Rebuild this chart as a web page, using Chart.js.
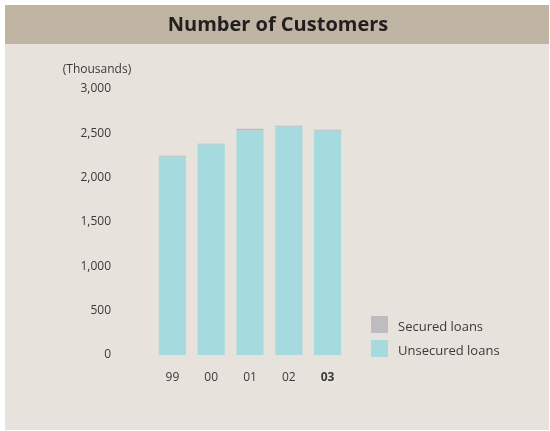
<!DOCTYPE html>
<html>
<head>
<meta charset="utf-8">
<script src="https://cdn.jsdelivr.net/npm/chart.js@4/dist/chart.umd.min.js"></script>
<style>
html,body{margin:0;padding:0;background:#ffffff;}
#wrap{position:absolute;left:0;top:0;width:550px;height:431px;}
</style>
</head>
<body>
<div id="wrap"><canvas id="c" width="550" height="431"></canvas></div>
<script>
const categories = ['99', '00', '01', '02', '03'];
const securedLoans = [12, 10, 22, 12, 12];
const unsecuredLoans = [2236, 2373, 2530, 2574, 2528];
const yTicks = [0, 500, 1000, 1500, 2000, 2500, 3000];
const titleText = 'Number of Customers';
const unitText = '(Thousands)';

const COL_SECURED = '#bdbcc0';
const COL_UNSECURED = '#a5dbdf';
const TEXT = '#3a3a3a';
const FONT = "'Open Sans', 'Noto Sans', sans-serif";

const backgroundPlugin = {
  id: 'bgPanel',
  beforeDraw(chart) {
    const ctx = chart.ctx;
    ctx.save();
    ctx.fillStyle = '#ffffff';
    ctx.fillRect(0, 0, 550, 431);
    ctx.fillStyle = '#e7e2db';
    ctx.fillRect(5, 5, 544, 425);
    ctx.fillStyle = '#c0b4a3';
    ctx.fillRect(5, 5, 544, 39);
    ctx.fillStyle = '#231f20';
    ctx.font = "bold 20px " + FONT;
    ctx.textAlign = 'center';
    ctx.textBaseline = 'middle';
    ctx.fillText(titleText, 278, 25);
    ctx.fillStyle = TEXT;
    ctx.font = "12px " + FONT;
    ctx.textAlign = 'center';
    ctx.fillText(unitText, 97, 70);
    ctx.restore();
  }
};

const legendPlugin = {
  id: 'customLegend',
  afterDraw(chart) {
    const ctx = chart.ctx;
    ctx.save();
    const items = chart.data.datasets.slice().reverse();
    const tops = [316, 340];
    items.forEach((ds, i) => {
      ctx.fillStyle = ds.backgroundColor;
      ctx.fillRect(371, tops[i], 17, 17);
      ctx.fillStyle = TEXT;
      ctx.font = "13px " + FONT;
      ctx.textAlign = 'left';
      ctx.textBaseline = 'middle';
      ctx.fillText(ds.label, 398, tops[i] + 11);
    });
    ctx.restore();
  }
};

new Chart(document.getElementById('c'), {
  type: 'bar',
  data: {
    labels: categories,
    datasets: [
      { label: 'Unsecured loans', data: unsecuredLoans, backgroundColor: COL_UNSECURED, stack: 's' },
      { label: 'Secured loans', data: securedLoans, backgroundColor: COL_SECURED, stack: 's' }
    ]
  },
  options: {
    responsive: false,
    animation: false,
    devicePixelRatio: 1,
    layout: { padding: { left: 0, right: 203, top: 89, bottom: 46 } },
    datasets: { bar: { categoryPercentage: 1.0, barPercentage: 0.7, borderWidth: 0 } },
    plugins: { legend: { display: false }, tooltip: { enabled: false }, title: { display: false } },
    scales: {
      x: {
        stacked: true,
        grid: { display: false, drawTicks: false },
        border: { display: false },
        afterFit(scale) { scale.height = 30; },
        ticks: {
          padding: 15,
          color: TEXT,
          font: (ctx) => ({ family: FONT, size: 12, weight: ctx.index === 4 ? 'bold' : 'normal' })
        }
      },
      y: {
        stacked: true,
        min: 0,
        max: 3000,
        grid: { display: false, drawTicks: false },
        border: { display: false },
        afterFit(scale) { scale.width = 153; },
        afterBuildTicks(scale) { scale.ticks = yTicks.map(v => ({ value: v })); },
        ticks: {
          padding: 42,
          color: TEXT,
          font: { family: FONT, size: 12 },
          callback: (v) => v.toLocaleString('en-US')
        }
      }
    }
  },
  plugins: [backgroundPlugin, legendPlugin]
});
</script>
</body>
</html>
